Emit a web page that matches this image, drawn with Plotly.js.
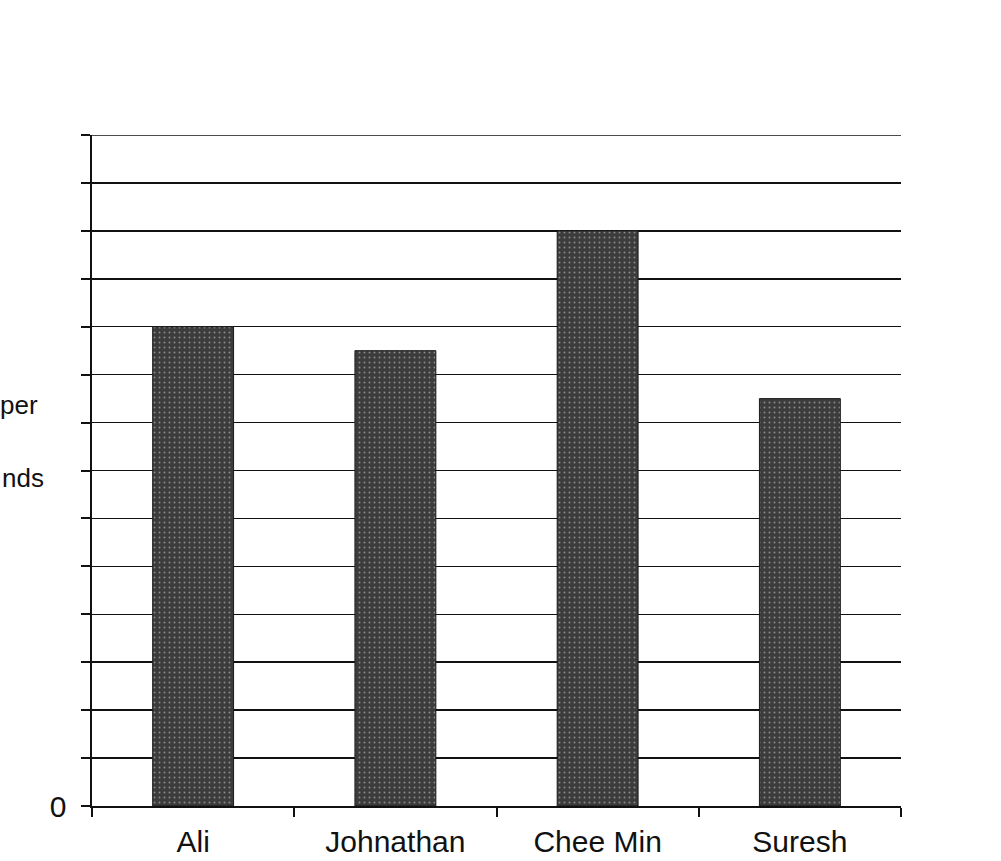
<!DOCTYPE html>
<html>
<head>
<meta charset="utf-8">
<script src="https://cdn.plot.ly/plotly-3.0.1.min.js"></script>
<style>html,body{margin:0;padding:0;background:#fff;}#chart{width:1001px;height:861px;}</style>
</head>
<body>
<div id="chart"></div>
<script>
const categories = ["Ali", "Johnathan", "Chee Min", "Suresh"];
const values = [10, 9.5, 12, 8.5];
const yTickValues = [0,1,2,3,4,5,6,7,8,9,10,11,12,13,14];
const yTickLabels = ["0","","","","","","","","","","","","","",""];
const yTitleLines = ["per", "nds"];
const yMax = 14;

const trace = {
  type: "bar",
  x: categories,
  y: values,
  marker: {
    color: "#3c3c3c",
    line: {color: "#1a1a1a", width: 1},
    pattern: {shape: ".", fgcolor: "#8a8a8a", bgcolor: "#3c3c3c", size: 5, solidity: 0.12}
  },
  hoverinfo: "none"
};

const layout = {
  width: 1001, height: 861,
  margin: {l: 92, r: 100, t: 135, b: 55},
  paper_bgcolor: "#fff", plot_bgcolor: "#fff",
  bargap: 0.6,
  showlegend: false,
  font: {family: "Liberation Sans, Arial, sans-serif", color: "#111", size: 30},
  xaxis: {
    type: "category",
    showline: true, linecolor: "#111", linewidth: 2,
    ticks: "outside", ticklen: 9, tickwidth: 2, tickcolor: "#111",
    tickson: "boundaries",
    ticklabelstandoff: 8,
    showgrid: false,
    tickfont: {size: 30, family: "Liberation Sans, Arial, sans-serif", color: "#111"},
    fixedrange: true
  },
  yaxis: {
    range: [0, yMax],
    tickvals: yTickValues, ticktext: yTickLabels,
    showline: true, linecolor: "#111", linewidth: 2.5,
    ticks: "outside", ticklen: 9, tickwidth: 2, tickcolor: "#111",
    ticklabelstandoff: 8,
    showgrid: true, gridcolor: "#111", gridwidth: 1.5,
    zeroline: false,
    tickfont: {size: 30, family: "Liberation Sans, Arial, sans-serif", color: "#111"},
    fixedrange: true
  },
  shapes: [
    {type: "line", xref: "paper", yref: "y", x0: 0, x1: 1, y0: yMax, y1: yMax,
     line: {color: "#111", width: 1.5}}
  ],
  annotations: [
    {xref: "paper", yref: "paper", x: -0.0643, y: 0.598, xanchor: "right", yanchor: "middle",
     text: yTitleLines[0], showarrow: false, font: {size: 26, color: "#111"}},
    {xref: "paper", yref: "paper", x: -0.0569, y: 0.489, xanchor: "right", yanchor: "middle",
     text: yTitleLines[1], showarrow: false, font: {size: 26, color: "#111"}}
  ]
};

Plotly.newPlot("chart", [trace], layout, {displayModeBar: false, staticPlot: true});
</script>
</body>
</html>
